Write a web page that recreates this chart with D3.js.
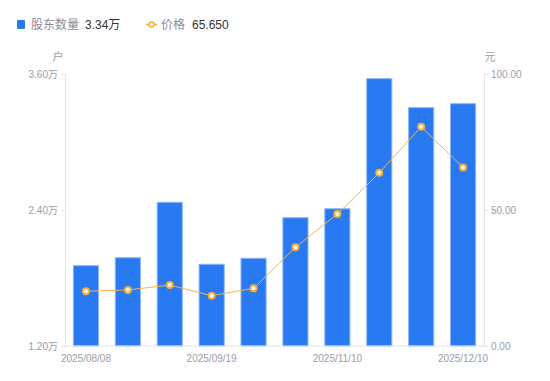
<!DOCTYPE html>
<html><head><meta charset="utf-8">
<script src="https://cdn.jsdelivr.net/npm/d3@7/dist/d3.min.js"></script>
<style>body{margin:0;background:#fff;}svg{display:block;font-family:"Liberation Sans","Noto Sans CJK SC",sans-serif;}</style>
</head><body>
<svg id="c" width="550" height="381"></svg>
<script>
const dates = ["2025/08/08","2025/08/20","2025/08/31","2025/09/19","2025/09/30","2025/10/20","2025/11/10","2025/11/20","2025/11/30","2025/12/10"];
const holders = [1.909,1.979,2.468,1.921,1.974,2.332,2.411,3.559,3.303,3.338];
const prices = [20.1,20.6,22.4,18.5,21.2,36.3,48.5,63.7,80.6,65.65];
const leftTicks = [1.2,2.4,3.6];
const rightTicks = [0,50,100];
const shownDates = ["2025/08/08","2025/09/19","2025/11/10","2025/12/10"];

const svg = d3.select("#c");
const L=65,R=484,T=74,B=346;
const axisCol="#e3e4ea", txtCol="#9b9cab";
const x = d3.scaleBand().domain(dates).range([L,R]).paddingInner(0.4).paddingOuter(0.2);
const yL = d3.scaleLinear().domain([1.2,3.6]).range([B,T]);
const yR = d3.scaleLinear().domain([0,100]).range([B,T]);

// bars
svg.append("g").selectAll("rect").data(holders).join("rect")
 .attr("x",(d,i)=>x(dates[i])).attr("width",x.bandwidth())
 .attr("y",d=>yL(d)).attr("height",d=>B-yL(d))
 .attr("fill","#2979f2").attr("stroke","#8bb6fb").attr("stroke-width",1);

// axes
const gl = svg.append("g").attr("transform",`translate(${L},0)`)
 .call(d3.axisLeft(yL).tickValues(leftTicks).tickSize(4).tickPadding(3).tickFormat(d=>d3.format(".2f")(d)+"万"));
const gr = svg.append("g").attr("transform",`translate(${R},0)`)
 .call(d3.axisRight(yR).tickValues(rightTicks).tickSize(4).tickPadding(3).tickFormat(d3.format(".2f")));
const gb = svg.append("g").attr("transform",`translate(0,${B})`)
 .call(d3.axisBottom(x).tickValues(shownDates).tickSize(0).tickPadding(9));
[gl,gr,gb].forEach(g=>{
  g.select(".domain").attr("stroke",axisCol);
  g.selectAll(".tick line").attr("stroke",axisCol);
  g.selectAll("text").attr("fill",txtCol).style("font-size","10px").style("font-family","'Liberation Sans','Noto Sans CJK SC',sans-serif");
});
gb.select(".domain").attr("d",`M${L},0H${R}`);

// line
const line = d3.line().x((d,i)=>x(dates[i])+x.bandwidth()/2).y(d=>yR(d));
svg.append("path").datum(prices).attr("d",line).attr("fill","none").attr("stroke","#f7b547").attr("stroke-width",1);
svg.append("g").selectAll("circle").data(prices).join("circle")
 .attr("cx",(d,i)=>x(dates[i])+x.bandwidth()/2).attr("cy",d=>yR(d)).attr("r",3)
 .attr("fill","#fff").attr("stroke","#f7b033").attr("stroke-width",2);

// unit labels
svg.append("text").attr("x",58).attr("y",61).attr("text-anchor","middle").attr("fill",txtCol).style("font-size","11px").text("户");
svg.append("text").attr("x",490).attr("y",61).attr("text-anchor","middle").attr("fill",txtCol).style("font-size","11px").text("元");

// legend
const lg = svg.append("g").style("font-size","12px");
lg.append("rect").attr("x",17).attr("y",20).attr("width",8).attr("height",9).attr("rx",1).attr("fill","#2979f2");
lg.append("text").attr("x",31).attr("y",29).attr("fill","#8a8b99").text("股东数量");
lg.append("text").attr("x",85).attr("y",29).attr("fill","#333").text(d3.format(".2f")(holders[holders.length-1])+"万");
lg.append("line").attr("x1",146).attr("x2",157).attr("y1",24.5).attr("y2",24.5).attr("stroke","#f7b033").attr("stroke-width",1.5);
lg.append("circle").attr("cx",151.5).attr("cy",24.5).attr("r",2.5).attr("fill","#fff").attr("stroke","#f7b033").attr("stroke-width",1.5);
lg.append("text").attr("x",161).attr("y",29).attr("fill","#8a8b99").text("价格");
lg.append("text").attr("x",192).attr("y",29).attr("fill","#333").text(d3.format(".3f")(prices[prices.length-1]));
</script>
</body></html>
